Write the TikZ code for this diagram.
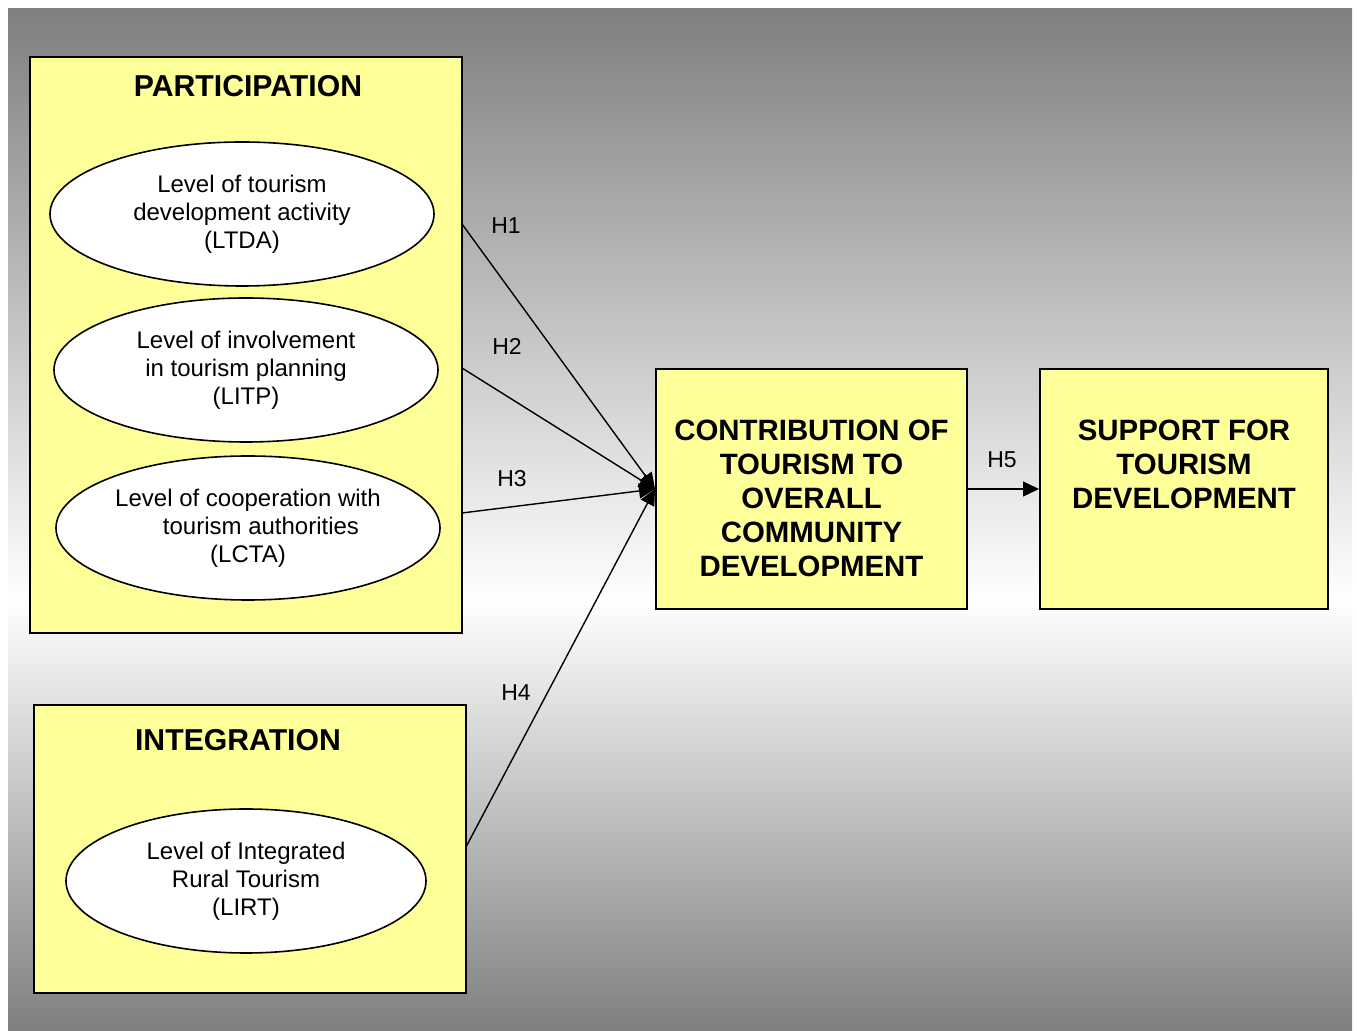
\documentclass[tikz,border=0pt]{standalone}
\usepackage{fontspec}
\setmainfont{Liberation Sans}
\usetikzlibrary{arrows.meta,shapes.geometric}
\definecolor{bgdark}{HTML}{7F7F7F}
\definecolor{boxyellow}{HTML}{FFFF99}
\begin{document}
\begin{tikzpicture}[x=0.5pt,y=-0.5pt,
  panel/.style={draw=black,line width=1pt,fill=boxyellow,rectangle,inner sep=0pt},
  oval/.style={draw=black,line width=0.8pt,fill=white,ellipse,inner sep=0pt,
    minimum height=72pt,align=center,font=\fontsize{12}{14}\selectfont},
  heading/.style={font=\fontsize{14.7}{17}\selectfont\bfseries,align=center},
  blocktitle/.style={font=\fontsize{15.1}{17}\selectfont\bfseries},
  hlabel/.style={font=\fontsize{11.5}{14}\selectfont},
  link/.style={line width=0.7pt,-{Triangle[length=8pt,width=7.5pt]}}]
  \useasboundingbox (0,0) rectangle (1357,1031);
  % graded backdrop
  \shade[top color=bgdark,bottom color=white] (8,9) rectangle (1352,600);
  \shade[top color=white,bottom color=bgdark] (8,599) rectangle (1352,1031);

  % participation block
  \node[panel,minimum width=216pt,minimum height=288pt] (part) at (246,345) {};
  \node[blocktitle] (parttitle) at (248,86) {PARTICIPATION};
  \node[oval,minimum width=192pt] (ltda) at (242,214)
    {Level of tourism\\development activity\\(LTDA)};
  \node[oval,minimum width=192pt] (litp) at (246,370)
    {Level of involvement\\in tourism planning\\(LITP)};
  \node[oval,minimum width=192pt] (lcta) at (248,528)
    {Level of cooperation with\\\hspace*{13pt}tourism authorities\\(LCTA)};

  % integration block
  \node[panel,minimum width=216pt,minimum height=144pt] (integ) at (250,849) {};
  \node[blocktitle] (integtitle) at (238,740) {INTEGRATION};
  \node[oval,minimum width=180pt] (lirt) at (246,881)
    {Level of Integrated\\Rural Tourism\\(LIRT)};

  % outcome blocks
  \node[panel,minimum width=155.5pt,minimum height=120pt] (contrib) at (811.5,489) {};
  \node[heading] (contribtext) at (811.5,498)
    {CONTRIBUTION OF\\TOURISM TO\\OVERALL\\COMMUNITY\\DEVELOPMENT};
  \node[panel,minimum width=144pt,minimum height=120pt] (support) at (1184,489) {};
  \node[heading] (supporttext) at (1184,464.5)
    {SUPPORT FOR\\TOURISM\\DEVELOPMENT};

  % connector start points on the block edges
  \coordinate (s1) at (462,224);
  \coordinate (s2) at (462,368);
  \coordinate (s3) at (462,513);
  \coordinate (s4) at (466,847);

  \draw[link] (s1) -- (contrib.west);
  \draw[link] (s2) -- (contrib.west);
  \draw[link] (s3) -- (contrib.west);
  \draw[link] (s4) -- (contrib.west);
  \draw[link] (contrib.east) -- (support.west);

  \node[hlabel] (h1) at (506,226) {H1};
  \node[hlabel] (h2) at (507,346) {H2};
  \node[hlabel] (h3) at (512,479) {H3};
  \node[hlabel] (h4) at (516,693) {H4};
  \node[hlabel] (h5) at (1002,460) {H5};
\end{tikzpicture}
\end{document}
